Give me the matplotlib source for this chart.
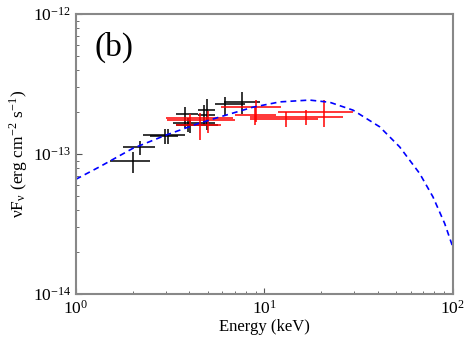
import numpy as np
import matplotlib
matplotlib.use('Agg')
import matplotlib.pyplot as plt
from matplotlib.ticker import FixedLocator, LogLocator, NullFormatter, LogFormatterMathtext

plt.rcParams['font.family'] = 'serif'
plt.rcParams['font.serif'] = ['Liberation Serif', 'DejaVu Serif']
plt.rcParams['mathtext.fontset'] = 'stix'

# black data: energy (keV) with low/high bin edges, flux with low/high error
blk_e = np.array([2.01, 2.20, 2.97, 3.07, 3.82, 3.94, 4.03, 4.94, 4.79, 6.17, 7.63])
blk_elo = np.array([1.51, 1.77, 2.27, 2.47, 3.42, 3.28, 3.42, 4.45, 4.45, 5.46, 6.10])
blk_ehi = np.array([2.49, 2.63, 3.79, 3.49, 4.45, 5.46, 5.69, 5.46, 5.46, 7.88, 9.46])
blk_f = np.array([8.95, 11.2, 13.7, 13.4, 19.3, 16.6, 16.1, 20.8, 19.0, 22.8, 23.4]) * 1e-14
blk_flo = np.array([7.35, 9.8, 11.8, 11.9, 15.3, 14.4, 14.1, 14.8, 16.1, 19.0, 19.5]) * 1e-14
blk_fhi = np.array([10.4, 12.4, 15.0, 15.2, 21.8, 18.0, 17.5, 24.6, 22.4, 25.5, 27.9]) * 1e-14

# red data
red_e = np.array([4.55, 5.00, 4.03, 9.09, 8.90, 13.1, 16.6, 20.7])
red_elo = np.array([3.42, 3.04, 3.02, 5.93, 6.97, 8.38, 8.38, 11.8])
red_ehi = np.array([5.93, 6.97, 6.82, 12.3, 11.6, 19.3, 26.2, 29.6])
red_f = np.array([16.1, 17.5, 18.0, 21.8, 19.0, 17.8, 18.5, 20.0]) * 1e-14
red_flo = np.array([12.7, 14.1, 16.5, 17.0, 16.1, 15.5, 16.1, 15.5]) * 1e-14
red_fhi = np.array([19.6, 20.4, 19.5, 24.3, 21.7, 20.0, 20.6, 24.3]) * 1e-14

# model curve (energy, log10 flux)
mod_e = np.array([1.0, 1.34, 2.0, 3.0, 4.5, 5.8, 8.7, 12.1, 17.4, 22.3, 29.6,
                  41.0, 52.3, 66.8, 78.6, 90.7, 100.0])
mod_logf = np.array([-13.18, -13.09, -12.96, -12.865, -12.78, -12.735, -12.665,
                     -12.627, -12.614, -12.63, -12.686, -12.805, -12.948,
                     -13.138, -13.305, -13.495, -13.66])

x_ticks = [1, 10, 100]
y_ticks = [1e-14, 1e-13, 1e-12]

fig = plt.figure(figsize=(4.71, 3.44), dpi=100)
ax = fig.add_axes([0.161, 0.145, 0.800, 0.814])

ax.errorbar(blk_e, blk_f, xerr=[blk_e - blk_elo, blk_ehi - blk_e],
            yerr=[blk_f - blk_flo, blk_fhi - blk_f], fmt='none',
            ecolor='black', elinewidth=1.1, capsize=0)
ax.errorbar(red_e, red_f, xerr=[red_e - red_elo, red_ehi - red_e],
            yerr=[red_f - red_flo, red_fhi - red_f], fmt='none',
            ecolor='#ff0000', elinewidth=1.1, capsize=0)
ax.plot(mod_e, 10 ** mod_logf, color='#0000ff', lw=1.2, ls=(0, (3.5, 2.5)))

ax.set_xscale('log')
ax.set_yscale('log')
ax.set_xlim(1, 100)
ax.set_ylim(1e-14, 1e-12)

for s in ax.spines.values():
    s.set_color('#888888')
    s.set_linewidth(1.5)

ax.xaxis.set_major_locator(FixedLocator(x_ticks))
ax.yaxis.set_major_locator(FixedLocator(y_ticks))
for a in (ax.xaxis, ax.yaxis):
    a.set_minor_locator(LogLocator(base=10, subs=np.arange(2, 10)))
    a.set_minor_formatter(NullFormatter())
    a.set_major_formatter(LogFormatterMathtext())
ax.tick_params(which='both', direction='in', color='#555555', labelsize=12.5)
ax.tick_params(which='major', length=4, width=0.8)
ax.tick_params(which='minor', length=2.5, width=0.6)
ax.tick_params(axis='x', pad=4)

ax.set_xlabel('Energy (keV)', fontsize=12, labelpad=1)
ax.set_ylabel('νF$_{\\mathregular{ν}}$ (erg cm$^{\\mathregular{-2}}$ s$^{\\mathregular{-1}}$)',
              fontsize=12.5, labelpad=2)

ax.text(0.05, 0.88, '(b)', transform=ax.transAxes, fontsize=24, va='center', ha='left')

fig.savefig('out.png', dpi=100)
